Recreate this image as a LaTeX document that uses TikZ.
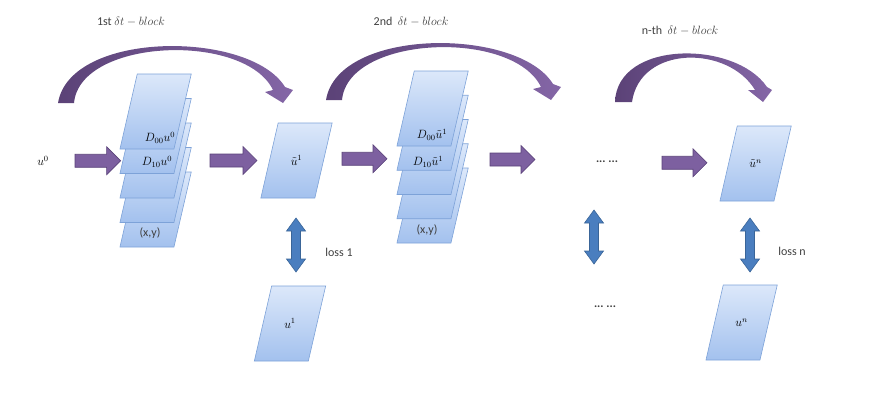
\documentclass[tikz,border=0pt]{standalone}
\usepackage{fontspec}
\setmainfont{Carlito}
\usetikzlibrary{calc}

\definecolor{sheettop}{HTML}{DCE8FA}
\definecolor{sheetbot}{HTML}{A3C1EE}
\definecolor{sheetline}{HTML}{7DA2D8}
\definecolor{arcdark}{HTML}{5B4277}
\definecolor{arclight}{HTML}{8466A6}
\definecolor{fatfill}{HTML}{7D60A0}
\definecolor{fatline}{HTML}{5A4279}
\definecolor{dblfill}{HTML}{4A7EBF}
\definecolor{dblline}{HTML}{3A6598}
\definecolor{txtgray}{HTML}{404040}

% slanted sheet: name, centre x, centre y, text
\newcommand{\drawsheet}[4]{%
    \shadedraw[sheetbox] ($(#2,#3)+(-35.65,37.5)$) -- ++(54,0) -- ++(17.3,-75)
        -- ++(-54,0) -- cycle;
    \node[inner sep=0pt] at (#2,#3)(#1){#4};}

\begin{document}
\begin{tikzpicture}[x=1pt, y=-1pt,
    every node/.style={font=\fontsize{12}{14}\selectfont},
    txt/.style={text=txtgray},
    sheetbox/.style={draw=sheetline, line width=0.6pt,
        top color=sheettop, bottom color=sheetbot},
    fatarrow/.style 2 args={draw=fatline, line width=0.6pt, fill=fatfill,
        to path={let \p1=(\tikztostart), \p2=(\tikztotarget) in
        ({\x1+#1pt},{(\y1+\y2)/2+6.5pt}) -- ({\x2-#2pt-14pt},{(\y1+\y2)/2+6.5pt})
        -- ({\x2-#2pt-14pt},{(\y1+\y2)/2+14pt}) -- ({\x2-#2pt},{(\y1+\y2)/2})
        -- ({\x2-#2pt-14pt},{(\y1+\y2)/2-14pt}) -- ({\x2-#2pt-14pt},{(\y1+\y2)/2-6.5pt})
        -- ({\x1+#1pt},{(\y1+\y2)/2-6.5pt}) -- cycle}},
    dblarrow/.style={draw=dblline, line width=0.6pt, fill=dblfill,
        to path={let \p1=(\tikztostart), \p2=(\tikztotarget) in
        (\x1,\y1) -- (\x1+9.5pt,\y1-13pt) -- (\x1+4.5pt,\y1-13pt)
        -- (\x1+4.5pt,\y2+13pt) -- (\x1+9.5pt,\y2+13pt) -- (\x1,\y2)
        -- (\x1-9.5pt,\y2+13pt) -- (\x1-4.5pt,\y2+13pt)
        -- (\x1-4.5pt,\y1-13pt) -- (\x1-9.5pt,\y1-13pt) -- cycle}}]
    \useasboundingbox (0,0) rectangle (888,402);

    % curved block arrows
    \shade[left color=arcdark, right color=arclight]
        (58,103) .. controls (70,30) and (250,30) .. (285,87) -- (293,90) -- (283,103)
        -- (265,92) -- (273,90) .. controls (245,32) and (80,38) .. (74,103) -- cycle;
    \shade[left color=arcdark, right color=arclight]
        (326,100) .. controls (338,27) and (518,27) .. (553,84) -- (561,87) -- (551,100)
        -- (533,89) -- (541,87) .. controls (513,29) and (348,35) .. (342,100) -- cycle;
    \shade[left color=arcdark, right color=arclight]
        (615,102) .. controls (617,40) and (735,40) .. (767,87) -- (772,90) -- (763,102)
        -- (748,90) -- (755,90) .. controls (728,45) and (640,45) .. (632,102) -- cycle;

    \node[txt] at (131,22)(b1){1st $\delta t - block$};
    \node[txt] at (411,22)(b2){2nd\ \ $\delta t - block$};
    \node[txt] at (680,31)(b3){n-th\ \ $\delta t - block$};

    \node at (43,161)(u0){$u^0$};

    % first stack
    \drawsheet{s15}{155.6}{209.5}{}
    \drawsheet{s14}{155.6}{185}{}
    \drawsheet{s13}{155.6}{160.5}{}
    \drawsheet{s12}{155.6}{136}{}
    \drawsheet{s11}{155.6}{111.5}{}
    \node at (160,138)(d00a){$D_{00}u^0$};
    \node at (157,162)(d10a){$D_{10}u^0$};
    \node[txt] at (150,233)(xya){(x,y)};

    \drawsheet{ut1}{296.5}{160.5}{$\tilde{u}^1$}
    \drawsheet{u1}{290}{323.5}{$u^1$}
    \node[txt] at (339,252)(loss1){loss 1};

    % second stack
    \drawsheet{s25}{432.6}{205.5}{}
    \drawsheet{s24}{432.6}{181.25}{}
    \drawsheet{s23}{432.6}{157}{}
    \drawsheet{s22}{432.6}{132.75}{}
    \drawsheet{s21}{432.6}{108.5}{}
    \node at (432,135)(d00b){$D_{00}\tilde{u}^1$};
    \node at (428,162)(d10b){$D_{10}\tilde{u}^1$};
    \node[txt] at (427,230)(xyb){(x,y)};

    \node[txt] at (607,162)(dots1){\textbf{...\ ...}};
    \node[txt] at (605,307)(dots2){\textbf{...\ ...}};

    \drawsheet{utn}{755.6}{163.5}{$\tilde{u}^n$}
    \drawsheet{un}{741.6}{322.5}{$u^n$}
    \node[txt] at (792,251)(lossn){loss n};

    \path
    (u0)edge[fatarrow={32}{35}](s13)
    (s13)edge[fatarrow={54.4}{39.5}](ut1)
    (ut1)edge[fatarrow={45.5}{45.6}](s23)
    (s23)edge[fatarrow={57.4}{72}](dots1)
    (dots1)edge[fatarrow={55}{48.6}](utn)
    ([shift={(-0.5,57.5)}]ut1.center)edge[dblarrow]([shift={(0,-51.5)}]u1.center)
    ([shift={(-13,48)}]dots1.center)edge[dblarrow]([shift={(0,-43)}]dots2.center)
    ([shift={(-5.6,54.5)}]utn.center)edge[dblarrow]([shift={(0,-50.5)}]un.center)
    ;
\end{tikzpicture}
\end{document}
